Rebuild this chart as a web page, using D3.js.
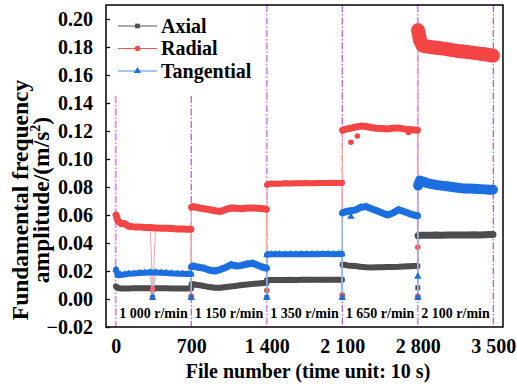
<!DOCTYPE html>
<html>
<head>
<meta charset="utf-8">
<script src="https://cdn.jsdelivr.net/npm/d3@7"></script>
<style>
  body { margin: 0; background: #fff; }
  text { font-family: 'Liberation Serif'; font-weight: bold; }
</style>
</head>
<body>
<div id="chart"></div>
<script>
// speed steps, boundaries in file numbers
var boundaries = [0, 700, 1400, 2100, 2800, 3500];
var speedLabels = ["1 000 r/min", "1 150 r/min", "1 350 r/min", "1 650 r/min", "2 100 r/min"];
var yTicks = [-0.02, 0.00, 0.02, 0.04, 0.06, 0.08, 0.10, 0.12, 0.14, 0.16, 0.18, 0.20];

// sampled file numbers, 17 per speed step
var fileNo = [
  3, 20, 45, 80, 120, 170, 220, 270, 320, 370, 420, 470, 520, 570, 620, 670, 697,
  703, 720, 745, 780, 820, 870, 920, 970, 1020, 1070, 1120, 1170, 1220, 1270, 1320, 1370, 1397,
  1403, 1420, 1445, 1480, 1520, 1570, 1620, 1670, 1720, 1770, 1820, 1870, 1920, 1970, 2020, 2070, 2097,
  2103, 2120, 2145, 2180, 2220, 2270, 2320, 2370, 2420, 2470, 2520, 2570, 2620, 2670, 2720, 2770, 2797,
  2803, 2820, 2845, 2880, 2920, 2970, 3020, 3070, 3120, 3170, 3220, 3270, 3320, 3370, 3420, 3470, 3497
];

var axial = [
  0.0090, 0.0078, 0.0075, 0.0075, 0.0075, 0.0076, 0.0076, 0.0077, 0.0077, 0.0077, 0.0076, 0.0076, 0.0075, 0.0075, 0.0075, 0.0075, 0.0076,
  0.0105, 0.0105, 0.0102, 0.0098, 0.0092, 0.0085, 0.0080, 0.0080, 0.0085, 0.0090, 0.0095, 0.0100, 0.0104, 0.0108, 0.0111, 0.0114, 0.0116,
  0.0134, 0.0135, 0.0135, 0.0136, 0.0136, 0.0136, 0.0137, 0.0136, 0.0137, 0.0137, 0.0137, 0.0138, 0.0137, 0.0138, 0.0138, 0.0138, 0.0138,
  0.0245, 0.0245, 0.0240, 0.0238, 0.0235, 0.0230, 0.0227, 0.0225, 0.0226, 0.0227, 0.0228, 0.0229, 0.0230, 0.0232, 0.0234, 0.0235, 0.0235,
  0.0452, 0.0455, 0.0456, 0.0455, 0.0456, 0.0457, 0.0456, 0.0457, 0.0458, 0.0457, 0.0458, 0.0458, 0.0459, 0.0458, 0.0459, 0.0460, 0.0460
];

var radial = [
  0.0600, 0.0560, 0.0540, 0.0540, 0.0520, 0.0515, 0.0515, 0.0510, 0.0510, 0.0508, 0.0505, 0.0505, 0.0503, 0.0500, 0.0500, 0.0498, 0.0498,
  0.0655, 0.0660, 0.0655, 0.0650, 0.0645, 0.0638, 0.0630, 0.0625, 0.0640, 0.0650, 0.0648, 0.0645, 0.0650, 0.0650, 0.0648, 0.0645, 0.0640,
  0.0815, 0.0822, 0.0825, 0.0823, 0.0824, 0.0826, 0.0825, 0.0827, 0.0826, 0.0828, 0.0827, 0.0829, 0.0828, 0.0829, 0.0830, 0.0829, 0.0830,
  0.1205, 0.1210, 0.1215, 0.1220, 0.1228, 0.1235, 0.1232, 0.1225, 0.1220, 0.1218, 0.1215, 0.1220, 0.1222, 0.1215, 0.1210, 0.1208, 0.1205,
  0.1920, 0.1850, 0.1810, 0.1805, 0.1800, 0.1795, 0.1790, 0.1785, 0.1778, 0.1772, 0.1768, 0.1763, 0.1758, 0.1753, 0.1748, 0.1742, 0.1738
];

var tangential = [
  0.0210, 0.0170, 0.0172, 0.0175, 0.0180, 0.0182, 0.0185, 0.0188, 0.0190, 0.0190, 0.0188, 0.0185, 0.0183, 0.0180, 0.0180, 0.0178, 0.0178,
  0.0230, 0.0235, 0.0230, 0.0225, 0.0220, 0.0205, 0.0200, 0.0210, 0.0225, 0.0245, 0.0235, 0.0240, 0.0250, 0.0255, 0.0240, 0.0225, 0.0220,
  0.0316, 0.0318, 0.0319, 0.0319, 0.0320, 0.0320, 0.0319, 0.0320, 0.0321, 0.0320, 0.0321, 0.0320, 0.0321, 0.0321, 0.0320, 0.0321, 0.0321,
  0.0615, 0.0620, 0.0625, 0.0630, 0.0635, 0.0655, 0.0660, 0.0645, 0.0630, 0.0615, 0.0600, 0.0615, 0.0638, 0.0625, 0.0610, 0.0598, 0.0595,
  0.0810, 0.0845, 0.0840, 0.0830, 0.0822, 0.0815, 0.0810, 0.0805, 0.0800, 0.0795, 0.0790, 0.0790, 0.0788, 0.0785, 0.0783, 0.0780, 0.0780
];

// drop-outs between steps (all three channels)
var dropFile = [342, 700, 1400, 2100, 2800, 2801];
var dropAxial = [0.001, 0.001, 0.001, 0.001, 0.008, 0.001];
var dropRadial = [0.007, 0.002, 0.006, 0.003, 0.037, 0.002];
var dropTangential = [0.001, 0.001, 0.001, 0.001, 0.016, 0.001];

// isolated outliers
var radialOutFile = [2180, 2240, 2715];
var radialOutValue = [0.112, 0.1165, 0.119];
var tangOutFile = [2180];
var tangOutValue = [0.0588];

var width = 517, height = 387;
var margin = { left: 106, right: 14, top: 5, bottom: 60 };

var svg = d3.select("#chart").append("svg")
  .attr("width", width)
  .attr("height", height);

var x = d3.scaleLinear().domain([-90, 3590]).range([margin.left, width - margin.right]);
var y = d3.scaleLinear().domain([-0.02, 0.21]).range([height - margin.bottom, margin.top]);

var series = [
  { name: "Axial", values: axial, drop: dropAxial, color: "#4d4d4d", thin: "#8a8a8a", shape: d3.symbolSquare, outF: [], outV: [] },
  { name: "Radial", values: radial, drop: dropRadial, color: "#f44545", thin: "#f7a3a3", shape: d3.symbolCircle, outF: radialOutFile, outV: radialOutValue },
  { name: "Tangential", values: tangential, drop: dropTangential, color: "#1c6fe0", thin: "#8db6ee", shape: d3.symbolTriangle, outF: tangOutFile, outV: tangOutValue }
];

// band thickness per series per step (scatter of dense samples)
var bandWidth = {
  Axial: [6, 6, 6, 6, 7],
  Radial: [7, 7, 6, 7, 14],
  Tangential: [6, 7, 6, 7, 10]
};

// speed-step boundaries (dash-dot)
svg.append("g").selectAll("line")
  .data(boundaries)
  .enter().append("line")
  .attr("x1", function (d) { return x(d); })
  .attr("x2", function (d) { return x(d); })
  .attr("y1", function (d) { return d < 1400 ? y(0.145) : y(0.21); })
  .attr("y2", y(-0.02))
  .attr("stroke", function (d, i) { return i % 2 === 0 ? "#d48af0" : "#b23fd6"; })
  .attr("stroke-width", function (d, i) { return i % 2 === 0 ? 1.8 : 1.1; })
  .attr("stroke-dasharray", "7,2,1.5,2");

// speed labels
svg.append("g").selectAll("text")
  .data(speedLabels)
  .enter().append("text")
  .attr("x", function (d, i) { return (x(boundaries[i]) + x(boundaries[i + 1])) / 2; })
  .attr("y", 318)
  .attr("text-anchor", "middle")
  .attr("font-size", "14px")
  .text(function (d) { return d; });

var line = d3.line()
  .x(function (d) { return x(d.f); })
  .y(function (d) { return y(d.v); });

series.forEach(function (s) {
  var pts = fileNo.map(function (f, i) { return { f: f, v: s.values[i] }; });
  var drops = dropFile.map(function (f, i) { return { f: f, v: s.drop[i] }; });
  var outs = s.outF.map(function (f, i) { return { f: f, v: s.outV[i] }; });
  var all = pts.concat(drops).sort(function (a, b) { return a.f - b.f; });

  // thin connecting line through every sample
  svg.append("path")
    .datum(all)
    .attr("fill", "none")
    .attr("stroke", s.thin)
    .attr("stroke-width", 1)
    .attr("d", line);

  // dense-scatter band inside each step
  for (var k = 0; k < 5; k++) {
    var segPts = pts.filter(function (p) { return p.f > boundaries[k] && p.f < boundaries[k + 1]; });
    svg.append("path")
      .datum(segPts)
      .attr("fill", "none")
      .attr("stroke", s.color)
      .attr("stroke-width", bandWidth[s.name][k])
      .attr("stroke-linejoin", "round")
      .attr("stroke-linecap", "round")
      .attr("d", line);
  }

  svg.append("g").selectAll("path")
    .data(pts.concat(drops).concat(outs))
    .enter().append("path")
    .attr("transform", function (d) { return "translate(" + x(d.f) + "," + y(d.v) + ")"; })
    .attr("d", d3.symbol().type(s.shape).size(24))
    .attr("fill", s.color);
});

// axes
var yAxis = d3.axisLeft(y)
  .tickValues(yTicks)
  .tickFormat(d3.format(".2f"))
  .tickSizeInner(-4)
  .tickSizeOuter(0)
  .tickPadding(13);

var gy = svg.append("g")
  .attr("transform", "translate(" + margin.left + ",0)")
  .call(yAxis)
  .attr("font-size", 20);
gy.select(".domain").remove();
gy.selectAll("line").attr("stroke", "#000").attr("stroke-width", 1.3);
gy.selectAll("text").attr("fill", "#000");

var xAxis = d3.axisBottom(x)
  .tickValues(boundaries)
  .tickFormat(function (d) { return d >= 1000 ? d3.format(",")(d).replace(",", " ") : d; })
  .tickSize(0)
  .tickPadding(12);

var gx = svg.append("g")
  .attr("transform", "translate(0," + y(-0.02) + ")")
  .call(xAxis)
  .attr("font-size", 20);
gx.select(".domain").remove();
gx.selectAll("text").attr("fill", "#000");

// frame
svg.append("rect")
  .attr("x", x(-90))
  .attr("y", y(0.21))
  .attr("width", x(3590) - x(-90))
  .attr("height", y(-0.02) - y(0.21))
  .attr("fill", "none")
  .attr("stroke", "#000")
  .attr("stroke-width", 1.5);

// axis titles
svg.append("text")
  .attr("x", 308)
  .attr("y", 378)
  .attr("text-anchor", "middle")
  .attr("font-size", "20px")
  .text("File number (time unit: 10 s)");

var yt = svg.append("text")
  .attr("transform", "translate(28,200) rotate(-90)")
  .attr("text-anchor", "middle")
  .attr("font-size", "23.5px");
yt.append("tspan").attr("x", 0).attr("y", 0).text("Fundamental frequency");
yt.append("tspan").attr("x", 0).attr("y", 20.5).text("amplitude/(m/s");
yt.append("tspan").attr("font-size", "14px").attr("dy", -9).text("2");
yt.append("tspan").attr("dy", 9).text(")");

// legend
var legend = svg.append("g");
series.forEach(function (s, i) {
  var ly = 26 + i * 22.5;
  legend.append("line")
    .attr("x1", 118).attr("x2", 157)
    .attr("y1", ly).attr("y2", ly)
    .attr("stroke", s.name === "Axial" ? "#555" : s.name === "Radial" ? "#f55" : "#4a8ee6")
    .attr("stroke-width", 1.2);
  legend.append("path")
    .attr("transform", "translate(137.5," + ly + ")")
    .attr("d", d3.symbol().type(s.shape).size(22))
    .attr("fill", s.color);
  legend.append("text")
    .attr("x", 161)
    .attr("y", ly + 6.5)
    .attr("font-size", "20px")
    .text(s.name);
});
</script>
</body>
</html>
